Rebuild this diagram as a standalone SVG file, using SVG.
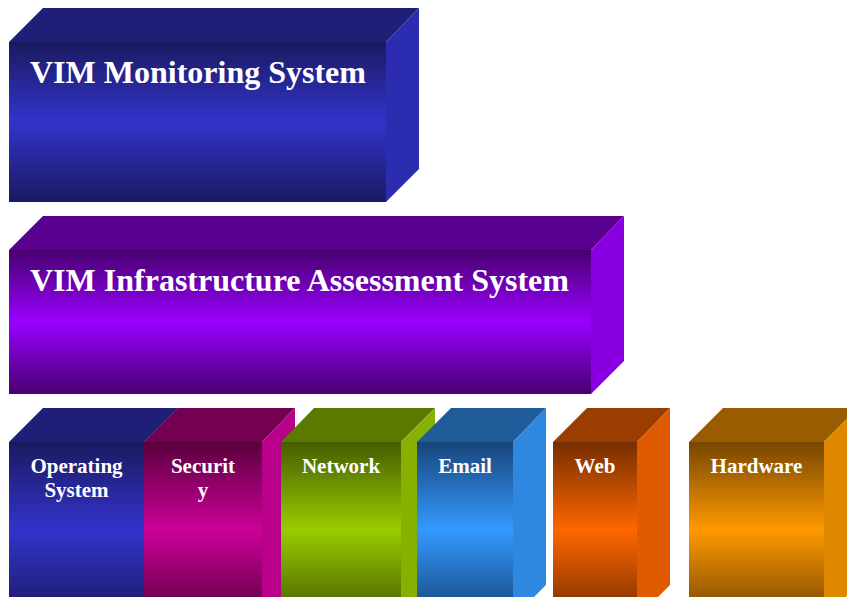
<svg xmlns="http://www.w3.org/2000/svg" width="847" height="597" viewBox="0 0 847 597">
<defs>
<linearGradient id="gBlue" x1="0" y1="0" x2="0" y2="1"><stop offset="0" stop-color="#1a1a60"/><stop offset="0.5" stop-color="#3333cc"/><stop offset="1" stop-color="#1a1a60"/></linearGradient>
<linearGradient id="gPurple" x1="0" y1="0" x2="0" y2="1"><stop offset="0" stop-color="#48006f"/><stop offset="0.5" stop-color="#9900ff"/><stop offset="1" stop-color="#48006f"/></linearGradient>
<linearGradient id="gMag" x1="0" y1="0" x2="0" y2="1"><stop offset="0" stop-color="#5a003e"/><stop offset="0.5" stop-color="#cc0099"/><stop offset="1" stop-color="#5a003e"/></linearGradient>
<linearGradient id="gGreen" x1="0" y1="0" x2="0" y2="1"><stop offset="0" stop-color="#465c00"/><stop offset="0.5" stop-color="#99cc00"/><stop offset="1" stop-color="#465c00"/></linearGradient>
<linearGradient id="gSky" x1="0" y1="0" x2="0" y2="1"><stop offset="0" stop-color="#18457a"/><stop offset="0.5" stop-color="#3399ff"/><stop offset="1" stop-color="#18457a"/></linearGradient>
<linearGradient id="gOrange" x1="0" y1="0" x2="0" y2="1"><stop offset="0" stop-color="#752e00"/><stop offset="0.5" stop-color="#ff6600"/><stop offset="1" stop-color="#752e00"/></linearGradient>
<linearGradient id="gAmber" x1="0" y1="0" x2="0" y2="1"><stop offset="0" stop-color="#754600"/><stop offset="0.5" stop-color="#ff9900"/><stop offset="1" stop-color="#754600"/></linearGradient>
</defs>
<style>
text{font-family:"Liberation Serif","Times New Roman",serif;font-weight:bold;fill:#ffffff}
.big{font-size:32px}
.small{font-size:21px;text-anchor:middle}
</style>
<g id="vim-monitoring">
<polygon points="9,42 43,8 419,8 386,42" fill="#1f1f78"/>
<polygon points="386,42 419,8 419,169 386,202" fill="#2c2cb0"/>
<rect x="9" y="42" width="377" height="160" fill="url(#gBlue)"/>
<text class="big" x="30" y="83">VIM Monitoring System</text>
</g>
<g id="vim-infrastructure">
<polygon points="9,250 43,216 624,216 591,250" fill="#5a008f"/>
<polygon points="591,250 624,216 624,361 591,394" fill="#8800e0"/>
<rect x="9" y="250" width="582" height="144" fill="url(#gPurple)"/>
<text class="big" x="30" y="291">VIM Infrastructure Assessment System</text>
</g>
<g id="operating-system">
<polygon points="9,442 43,408 178,408 144,442" fill="#1f1f78"/>
<polygon points="144,442 178,408 178,585 144,618" fill="#2c2cb0"/>
<rect x="9" y="442" width="135" height="176" fill="url(#gBlue)"/>
<text class="small" x="76.5" y="473">Operating</text>
<text class="small" x="76.5" y="497">System</text>
</g>
<g id="security">
<polygon points="144,442 178,408 295,408 262,442" fill="#730050"/>
<polygon points="262,442 295,408 295,585 262,618" fill="#b8008a"/>
<rect x="144" y="442" width="118" height="176" fill="url(#gMag)"/>
<text class="small" x="203" y="473">Securit</text>
<text class="small" x="203" y="497">y</text>
</g>
<g id="network">
<polygon points="281,442 314,408 435,408 401,442" fill="#5c7a00"/>
<polygon points="401,442 435,408 435,585 401,618" fill="#88b000"/>
<rect x="281" y="442" width="120" height="176" fill="url(#gGreen)"/>
<text class="small" x="341" y="473">Network</text>
</g>
<g id="email">
<polygon points="417,442 451,408 546,408 513,442" fill="#1f5c99"/>
<polygon points="513,442 546,408 546,585 513,618" fill="#2e88e0"/>
<rect x="417" y="442" width="96" height="176" fill="url(#gSky)"/>
<text class="small" x="465" y="473">Email</text>
</g>
<g id="web">
<polygon points="553,442 587,408 670,408 637,442" fill="#993d00"/>
<polygon points="637,442 670,408 670,585 637,618" fill="#e05a00"/>
<rect x="553" y="442" width="84" height="176" fill="url(#gOrange)"/>
<text class="small" x="595" y="473">Web</text>
</g>
<g id="hardware">
<polygon points="689,442 723,408 858,408 824,442" fill="#995c00"/>
<polygon points="824,442 858,408 858,585 824,618" fill="#e08800"/>
<rect x="689" y="442" width="135" height="176" fill="url(#gAmber)"/>
<text class="small" x="756.5" y="473">Hardware</text>
</g>
</svg>
